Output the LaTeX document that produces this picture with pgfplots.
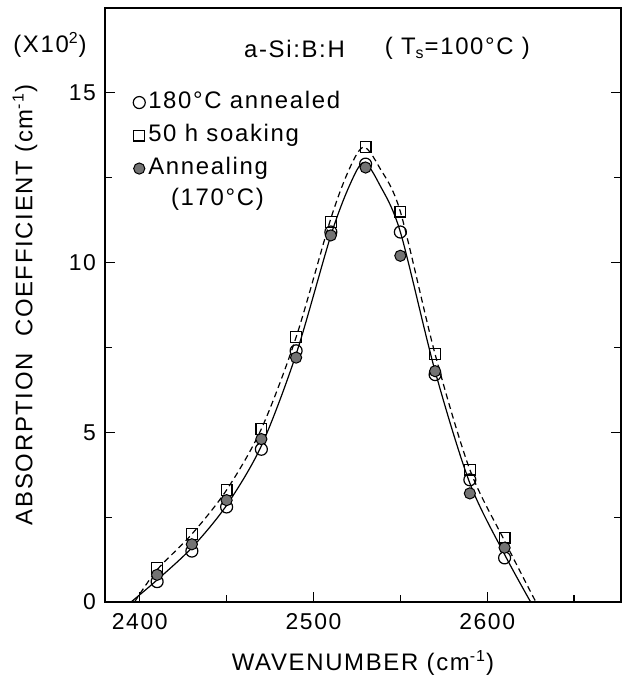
\documentclass[border=0pt]{standalone}
\usepackage{fontspec}
\setmainfont{Liberation Sans}[LetterSpace=7]
\usepackage{pgfplots}
\pgfplotsset{compat=1.18}
\begin{document}
\begin{tikzpicture}
\begin{axis}[name=ax,
  scale only axis, width=258bp, height=297bp,
  xmin=2380, xmax=2677, ymin=0, ymax=17.5,
  xtick={2400,2500,2600}, xticklabels={2400,2500,2600},
  minor xtick={2450,2550,2650},
  ytick={0,5,10,15}, yticklabels={0,5,10,15},
  minor ytick={2.5,7.5,12.5},
  xtick pos=left, ytick pos=both, tick align=inside,
  major tick length=5bp, minor tick length=3.5bp,
  every tick/.style={black, line width=0.6bp},
  axis line style={line width=0.8bp},
  /pgf/number format/assume math mode=true,
  tick label style={font=\fontsize{11.5}{12}\selectfont},
  xticklabel style={yshift=-2bp},
  yticklabel style={xshift=-1bp},
  clip=false,
  legend style={at={(rel axis cs:0.054,0.860)}, anchor=north west, draw=none, fill=none,
    font=\fontsize{12}{13}\selectfont, row sep=5.5bp, inner sep=0pt,
    nodes={inner xsep=1.5bp, inner ysep=0bp, text height=8.6bp, text depth=2.4bp}},
  legend image code/.code={\draw[#1] plot coordinates {(0bp,0bp)};},
  legend cell align=left,
]
% fitted curves
\addplot[black, line width=0.6bp, smooth, forget plot] coordinates {
  (2395,0) (2410,0.65) (2430,1.6) (2450,2.85) (2470,4.6) (2490,7.3)
  (2510,10.8) (2521,12.3) (2529,12.95) (2538,12.3) (2550,10.9) (2570,6.8) (2590,3.5) (2610,1.4) (2625,0)};
\addplot[black, line width=0.6bp, dash pattern=on 3bp off 2bp, smooth, forget plot] coordinates {
  (2397,0) (2410,0.95) (2430,2.0) (2450,3.3) (2470,5.1) (2490,7.8)
  (2510,11.3) (2521,12.8) (2529,13.4) (2538,12.8) (2550,11.5) (2570,7.3) (2590,3.9) (2610,1.8) (2628,0)};
% 180 C annealed
\addplot[only marks, mark=o, mark size=3bp, black, line width=0.6bp,
  mark options={fill=white}] coordinates {
  (2410,0.6) (2430,1.5) (2450,2.8) (2470,4.5) (2490,7.4) (2510,10.9)
  (2530,12.9) (2550,10.9) (2570,6.7) (2590,3.6) (2610,1.3)};
\addlegendentry{180°C annealed}
% 50 h soaking
\addplot[only marks, mark=square, mark size=2.7bp, black, line width=0.6bp,
  mark options={fill=white}] coordinates {
  (2410,1.0) (2430,2.0) (2450,3.3) (2470,5.1) (2490,7.8) (2510,11.2)
  (2530,13.4) (2550,11.5) (2570,7.3) (2590,3.9) (2610,1.9)};
\addlegendentry{50 h soaking}
% annealing 170 C
\addplot[only marks, mark=*, mark size=2.8bp, black, line width=0.5bp,
  mark options={fill=black!55}] coordinates {
  (2410,0.8) (2430,1.7) (2450,3.0) (2470,4.8) (2490,7.2) (2510,10.8)
  (2530,12.8) (2550,10.2) (2570,6.8) (2590,3.2) (2610,1.6)};
\addlegendentry{Annealing}
\node[anchor=west, font=\fontsize{12}{13}\selectfont] at (axis cs:2414,11.85) {(170°C)};
\node[anchor=west, font=\fontsize{12}{13}\selectfont] at (axis cs:2456,16.3) {a-Si:B:H};
\node[anchor=west, font=\fontsize{12}{13}\selectfont] at (axis cs:2537,16.3) {( T\textsubscript{s}=100°C )};
\node[font=\fontsize{12}{13}\selectfont] at ([xshift=-27.5bp]rel axis cs:0,0.938) {(X10\textsuperscript{2})};
\node[font=\fontsize{12}{13}\selectfont] at ([yshift=-30.5bp]rel axis cs:0.5,0) {WAVENUMBER (cm\textsuperscript{-1})};
\node[rotate=90, font=\fontsize{12}{13}\selectfont] at ([xshift=-40bp]rel axis cs:0,0.5) {ABSORPTION\hspace{4bp} COEFFICIENT (cm\textsuperscript{-1})};
\end{axis}
\pgfresetboundingbox
\path[use as bounding box] ([xshift=-52.5bp,yshift=-38bp]ax.south west) rectangle ([xshift=2bp,yshift=4bp]ax.north east);
\end{tikzpicture}
\end{document}
